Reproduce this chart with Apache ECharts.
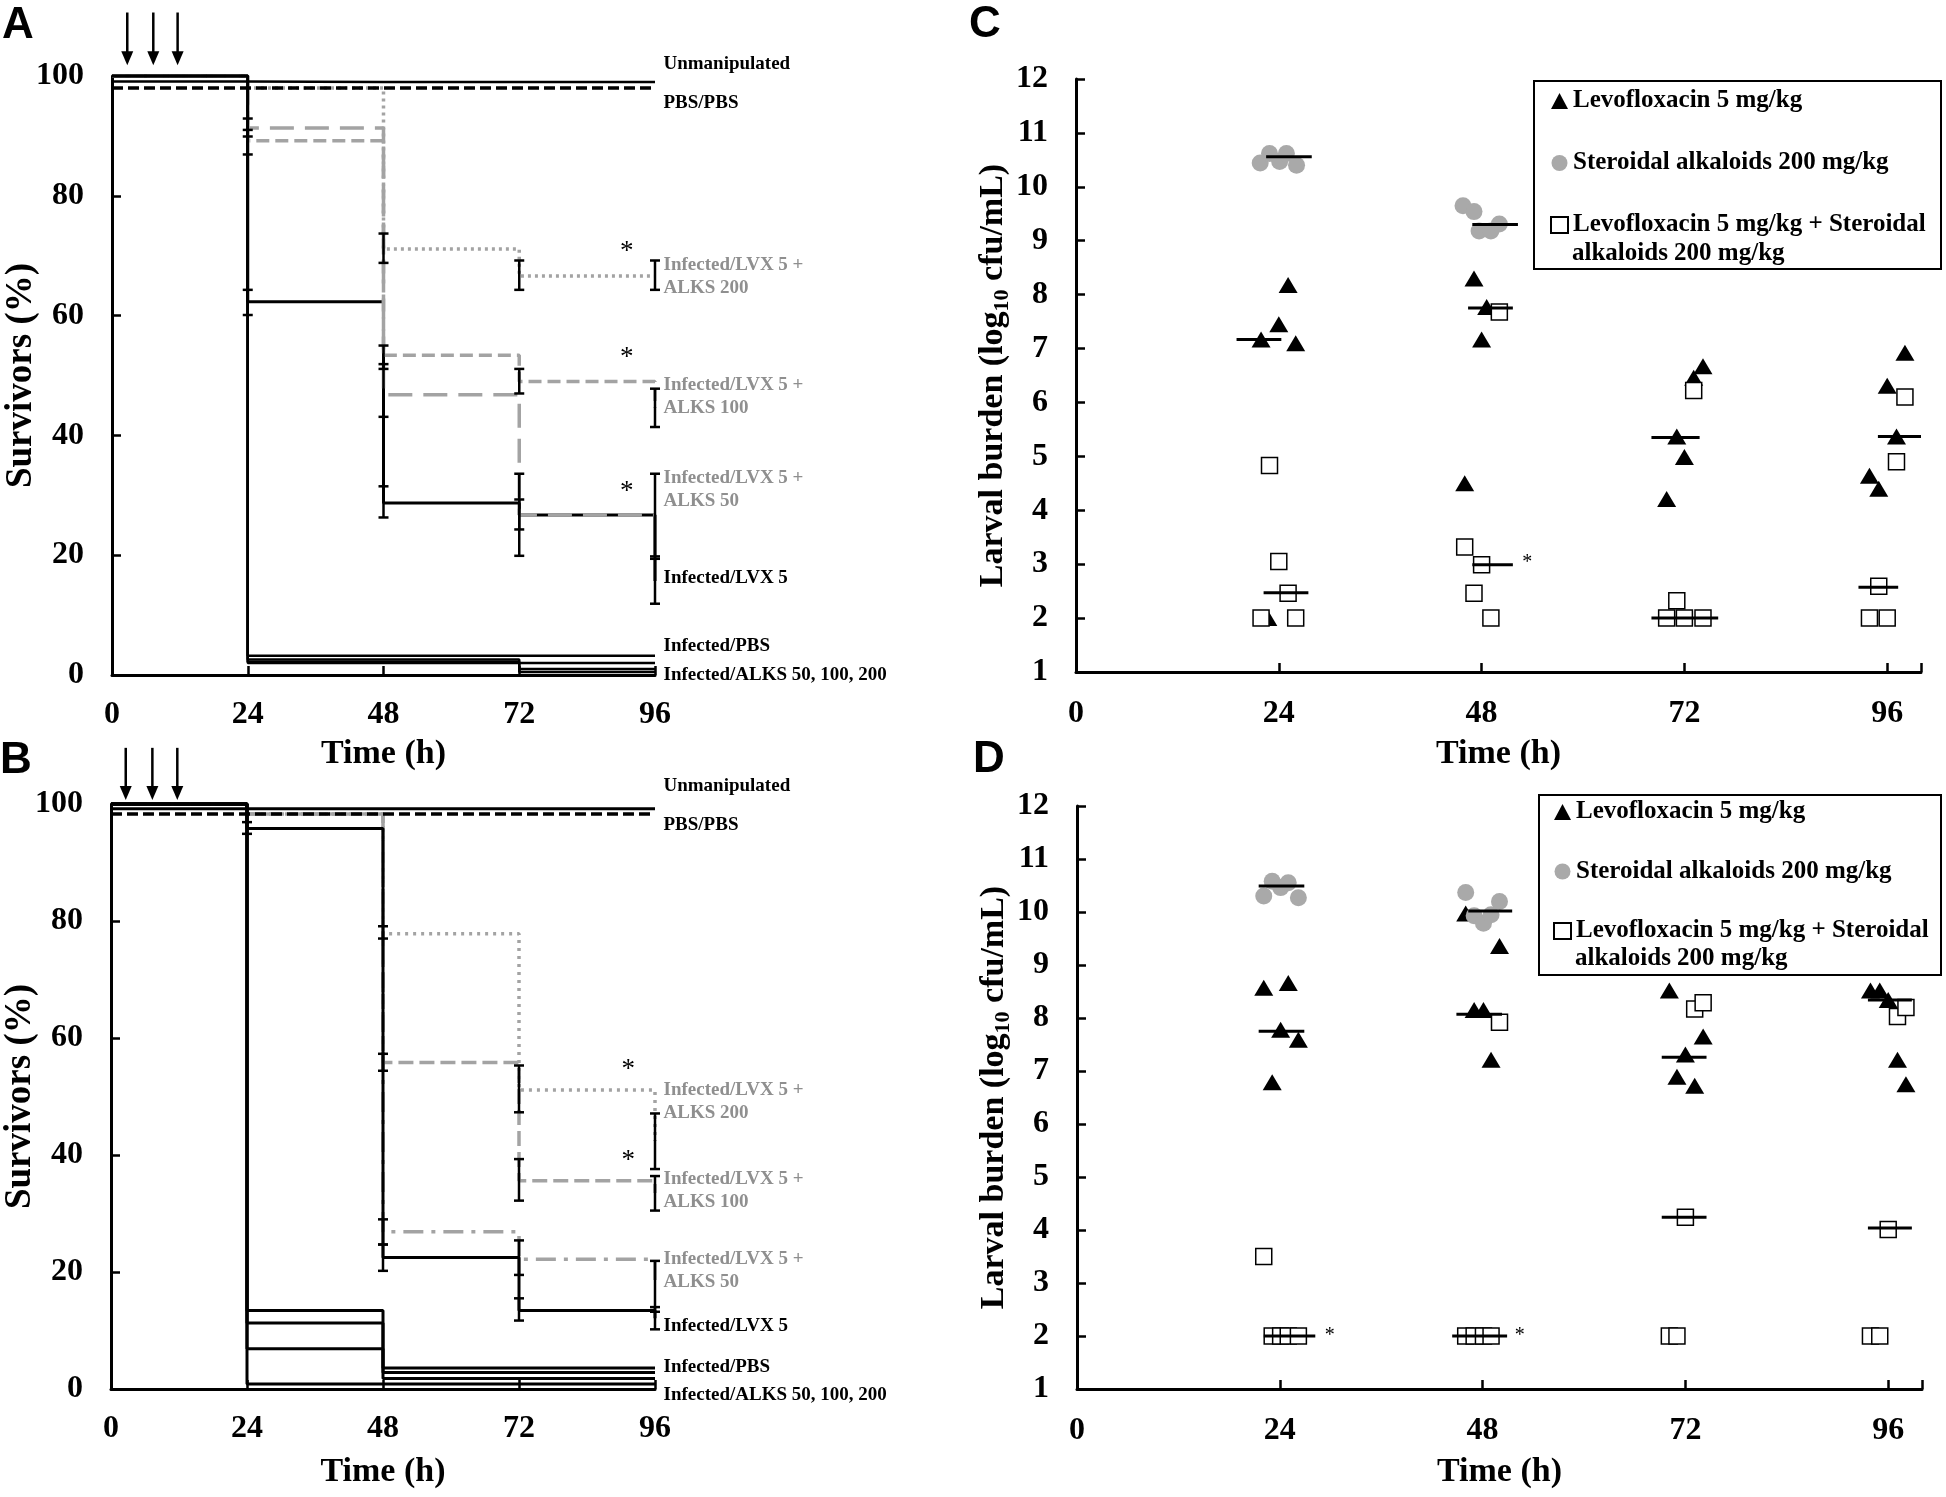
<!DOCTYPE html>
<html><head><meta charset="utf-8">
<script src="https://cdn.jsdelivr.net/npm/echarts@6/dist/echarts.min.js"></script>
<style>html,body{margin:0;padding:0;background:#fff}#c{width:1946px;height:1497px}</style>
</head><body><div id="c"></div>
<script>
// ---------- DATA ----------
const times = [0, 24, 48, 72, 96];

// Panel A survival (%)
const unmanipA   = [99.1, 99.0, 99.0, 99.0, 99.0];
const pbsA       = [98.0, 98.0, 98.0, 98.0, 98.0];
const infPbsA    = [100, 3.2, 3.2, 3.2, 3.2];
const alks50A    = [100, 2.6, 2.6, 2.0, 2.0];
const alks100A   = [100, 2.2, 2.2, 1.0, 1.0];
const alks200A   = [100, 2.0, 2.0, 0.5, 0.5];
const lvxA       = [100, 62.3, 28.7, 26.7, 15.7];
const lvx50A     = [100, 91.3, 46.8, 26.7, 26.7];
const lvx100A    = [100, 89.2, 53.4, 49.0, 44.6];
const lvx200A    = [100, 98.0, 71.1, 66.6, 66.6];
const errA = [[24,60.1,64.3],[24,86.9,91.0],[24,89.9,92.9],[48,68.8,73.7],[48,51.1,55.0],[48,43.1,51.9],[48,26.3,31.5],
  [72,64.3,69.2],[72,47.0,51.1],[72,19.9,33.6],[72,24.3,29.3],[96,64.3,69.2],[96,41.4,47.8],[96,19.8,33.6],[96,11.9,19.4]];

// Panel B survival (%)
const unmanipB   = [99.2, 99.2, 99.2, 99.2, 99.2];
const pbsB       = [98.3, 98.3, 98.3, 98.3, 98.3];
const infPbsB    = [100, 13.4, 3.6, 3.6, 3.6];
const alks50B    = [100, 11.3, 2.8, 2.8, 2.8];
const alks100B   = [100, 6.9, 1.8, 1.8, 1.8];
const alks200B   = [100, 0.85, 0.85, 0.85, 0.85];
const lvxB       = [100, 95.8, 22.5, 13.4, 12.1];
const lvx50B     = [100, 98.3, 26.9, 22.2, 17.5];
const lvx100B    = [100, 98.3, 55.8, 35.6, 33.5];
const lvx200B    = [100, 98.3, 77.8, 51.1, 42.4];
const errB = [[24,94.9,96.9],[48,77.0,79.1],[48,54.4,57.3],[48,24.7,29.0],[48,20.2,24.7],
  [72,47.3,55.3],[72,32.2,39.3],[72,19.5,25.4],[72,11.7,15.5],[96,37.6,47.1],[96,30.5,36.4],[96,13.2,21.9],[96,10.2,14.0]];

// Dosing arrows [time, top %, tip %]
const arrowsA = [[2.7,110.6,101.8],[7.3,110.6,101.8],[11.6,110.6,101.8]];
const arrowsB = [[2.6,109.6,100.7],[7.3,109.6,100.7],[11.7,109.6,100.7]];

// Right-hand labels [time, %, text, tone]
const labelsA = [[97.5,102.0,'Unmanipulated','k'],[97.5,95.5,'PBS/PBS','k'],[97.5,66.5,'Infected/LVX 5 +\nALKS 200','g'],
  [97.5,46.4,'Infected/LVX 5 +\nALKS 100','g'],[97.5,31.0,'Infected/LVX 5 +\nALKS 50','g'],[97.5,16.2,'Infected/LVX 5','k'],
  [97.5,4.8,'Infected/PBS','k'],[97.5,0.0,'Infected/ALKS 50, 100, 200','k']];
const labelsB = [[97.5,103.0,'Unmanipulated','k'],[97.5,96.4,'PBS/PBS','k'],[97.5,49.2,'Infected/LVX 5 +\nALKS 200','g'],
  [97.5,33.9,'Infected/LVX 5 +\nALKS 100','g'],[97.5,20.3,'Infected/LVX 5 +\nALKS 50','g'],[97.5,10.7,'Infected/LVX 5','k'],
  [97.5,3.8,'Infected/PBS','k'],[97.5,-1.0,'Infected/ALKS 50, 100, 200','k']];
const starsA = [[91,70.7],[91,53.0],[91,30.5]];
const starsB = [[91.3,54.6],[91.3,39.0]];

// Panel C larval burden (log10 cfu/mL) [time, value]
const lvxC = [[22.7,2.0],[21.9,7.17],[24.0,7.45],[25.1,8.18],[26.0,7.10],
  [46.0,4.5],[47.1,8.3],[48.0,7.17],[48.6,7.77],
  [69.9,4.21],[71.1,5.37],[72.0,4.99],[73.1,6.46],[74.2,6.67],
  [93.9,4.64],[95.0,4.40],[96.0,6.31],[97.1,5.37],[98.1,6.92]];
const alkC = [[21.8,10.44],[22.9,10.62],[24.1,10.47],[24.9,10.62],[26.1,10.40],
  [45.8,9.65],[47.1,9.54],[47.7,9.18],[49.1,9.18],[50.1,9.31]];
const comboC = [[21.9,2.0],[22.9,4.83],[24.0,3.05],[25.1,2.46],[26.0,2.0],
  [46.0,3.32],[47.1,2.46],[48.0,2.99],[49.1,2.0],[50.1,7.68],
  [69.9,2.0],[71.1,2.32],[72.0,2.0],[73.1,6.22],[74.2,2.0],
  [93.9,2.0],[95.0,2.59],[96.0,2.0],[97.1,4.90],[98.1,6.10]];
// medians [from, to, value]
const medC = [[22.5,27.9,10.56],[19.0,24.3,7.17],[22.2,27.5,2.47],
  [46.9,52.3,9.30],[46.4,51.7,7.75],[46.9,51.7,2.99],
  [68.1,73.8,5.35],[68.1,76.0,2.0],
  [94.9,100.0,5.37],[92.6,97.3,2.57]];
const starsC = [[53.4,3.02]];

// Panel D
const lvxD = [[22.1,8.57],[23.1,6.79],[24.1,7.78],[25.0,8.66],[26.2,7.59],
  [46.0,9.97],[47.0,8.15],[48.1,8.15],[49.0,7.21],[50.0,9.36],
  [70.1,8.52],[71.0,6.89],[72.0,7.31],[73.1,6.72],[74.1,7.65],
  [93.9,8.52],[95.0,8.52],[96.0,8.34],[97.1,7.21],[98.1,6.75]];
const alkD = [[22.1,10.30],[23.1,10.58],[24.1,10.46],[25.0,10.55],[26.2,10.27],
  [46.0,10.37],[47.0,9.93],[48.1,9.79],[49.0,9.95],[50.0,10.2]];
const comboD = [[22.1,3.5],[23.1,2.0],[24.1,2.0],[25.0,2.0],[26.2,2.0],
  [46.0,2.0],[47.0,2.0],[48.1,2.0],[49.0,2.0],[50.0,7.92],
  [70.1,2.0],[71.0,2.0],[72.0,4.24],[73.1,8.17],[74.1,8.29],
  [93.9,2.0],[95.0,2.0],[96.0,4.01],[97.1,8.03],[98.1,8.2]];
const medD = [[21.5,26.9,10.49],[21.5,26.9,7.75],[22.1,28.2,2.0],
  [46.3,51.5,10.02],[44.9,50.3,8.07],[44.4,50.9,2.0],
  [69.2,74.5,7.26],[69.2,74.5,4.24],
  [93.6,98.8,8.34],[93.6,98.8,4.04]];
const starsD = [[29.9,2.0],[52.4,2.0]];

const LEG1 = 'Levofloxacin 5 mg/kg';
const LEG2 = 'Steroidal alkaloids 200 mg/kg';
const LEG3 = 'Levofloxacin 5 mg/kg + Steroidal alkaloids 200 mg/kg';

// ---------- STYLE ----------
const SERIF = '"Liberation Serif","Times New Roman",serif';
const SANS = '"Liberation Sans",Arial,sans-serif';
const GRAYL = '#a3a3a3';
const GRAYT = '#8f8f8f';
const GRAYC = '#a9a9a9';

function stepSeries(vals, gi, color, width, type, z) {
  return {type:'line', xAxisIndex:gi, yAxisIndex:gi, data: times.map((t,i)=>[t, vals[i]]),
    step:'end', symbol:'none', clip:false, silent:true, z:z,
    lineStyle:{color:color, width:width, type:type, cap:'butt', opacity:1}};
}
function errSeries(data, gi) {
  return {type:'custom', xAxisIndex:gi, yAxisIndex:gi, data:data, silent:true, z:6, clip:false,
    encode:{x:0, y:[1,2]},
    renderItem:function(params, api){
      const x = api.value(0);
      const lo = api.coord([x, api.value(1)]), hi = api.coord([x, api.value(2)]);
      const w = 5, st = {stroke:'#000', lineWidth:2.5};
      return {type:'group', children:[
        {type:'line', shape:{x1:lo[0],y1:lo[1],x2:hi[0],y2:hi[1]}, style:st},
        {type:'line', shape:{x1:lo[0]-w,y1:lo[1],x2:lo[0]+w,y2:lo[1]}, style:st},
        {type:'line', shape:{x1:hi[0]-w,y1:hi[1],x2:hi[0]+w,y2:hi[1]}, style:st}]};
    }};
}
function arrowSeries(data, gi) {
  return {type:'custom', xAxisIndex:gi, yAxisIndex:gi, data:data, silent:true, z:6, clip:false,
    encode:{x:0, y:[1,2]},
    renderItem:function(params, api){
      const x = api.value(0);
      const top = api.coord([x, api.value(1)]), tip = api.coord([x, api.value(2)]);
      return {type:'group', children:[
        {type:'line', shape:{x1:top[0],y1:top[1],x2:tip[0],y2:tip[1]-10}, style:{stroke:'#000', lineWidth:2.5}},
        {type:'polygon', shape:{points:[[tip[0],tip[1]],[tip[0]-6,tip[1]-14],[tip[0]+6,tip[1]-14]]}, style:{fill:'#000'}}]};
    }};
}
function textSeries(list, gi, size, align, weight) {
  return {type:'custom', xAxisIndex:gi, yAxisIndex:gi, data:list.map(d=>[d[0], d[1]]), silent:true, z:7, clip:false,
    encode:{x:0, y:1},
    renderItem:function(params, api){
      const p = api.coord([api.value(0), api.value(1)]);
      const item = list[params.dataIndex];
      const txt = item.length > 2 ? item[2] : '*';
      const col = item.length > 3 && item[3] === 'g' ? GRAYT : '#000';
      return {type:'text', x:p[0], y:p[1], style:{text:txt, fill:col, fontFamily:SERIF, fontWeight:weight,
        fontSize:size, lineHeight:Math.round(size*1.2), align:align, verticalAlign:'middle',
        textAlign:align, textVerticalAlign:'middle'}};
    }};
}
function medSeries(data, gi) {
  return {type:'custom', xAxisIndex:gi, yAxisIndex:gi, data:data, silent:true, z:5, clip:false,
    encode:{x:[0,1], y:2},
    renderItem:function(params, api){
      const a = api.coord([api.value(0), api.value(2)]), b = api.coord([api.value(1), api.value(2)]);
      return {type:'line', shape:{x1:a[0],y1:a[1],x2:b[0],y2:b[1]}, style:{stroke:'#000', lineWidth:3}};
    }};
}
function scat(name, data, gi, kind) {
  const s = {type:'scatter', name:name, xAxisIndex:gi, yAxisIndex:gi, data:data, silent:true, clip:false};
  if (kind === 'tri') { s.symbol='triangle'; s.symbolSize=[19,16]; s.itemStyle={color:'#000', opacity:1}; s.z=2; }
  if (kind === 'cir') { s.symbol='circle'; s.symbolSize=17; s.itemStyle={color:GRAYC, opacity:1}; s.z=2; }
  if (kind === 'sq')  { s.symbol='rect'; s.symbolSize=16; s.itemStyle={color:'#fff', borderColor:'#000', borderWidth:1.5, opacity:1}; s.z=3; }
  return s;
}

const axLine = {show:true, onZero:false, lineStyle:{color:'#000', width:3}};
const axTick = {show:true, inside:true, length:9, lineStyle:{color:'#000', width:2.5}};
const nameStyle = {fontFamily:SERIF, fontWeight:'bold', fontSize:34, color:'#000'};
const survNameStyle = {fontFamily:SERIF, fontWeight:'bold', fontSize:37, color:'#000'};
function lab(margin, size, fmt) {
  const o = {margin:margin, fontFamily:SERIF, fontWeight:'bold', fontSize:size, color:'#000'};
  if (fmt) o.formatter = fmt;
  return o;
}
const fmt24 = v => (v % 24 === 0 ? String(v) : '');

const grids = [
  {left:112, top:76, width:543, height:599},
  {left:111, top:804, width:544, height:585},
  {left:1076, top:79, width:845, height:593},
  {left:1077, top:806, width:845, height:583}
].map(g => Object.assign({containLabel:false, outerBoundsMode:'none', show:false}, g));

const xAxes = [
  {gridIndex:0, type:'value', min:0, max:96, interval:24, name:'Time (h)', nameLocation:'middle', nameGap:62,
   nameTextStyle:nameStyle, axisLine:axLine, axisTick:axTick, axisLabel:lab(24,32), splitLine:{show:false}},
  {gridIndex:1, type:'value', min:0, max:96, interval:24, name:'Time (h)', nameLocation:'middle', nameGap:66,
   nameTextStyle:nameStyle, axisLine:axLine, axisTick:axTick, axisLabel:lab(24,32), splitLine:{show:false}},
  {gridIndex:2, type:'value', min:0, max:100, interval:24, name:'Time (h)', nameLocation:'middle', nameGap:65,
   nameTextStyle:nameStyle, axisLine:axLine, axisTick:axTick, axisLabel:lab(26,32,fmt24), splitLine:{show:false}},
  {gridIndex:3, type:'value', min:0, max:100, interval:24, name:'Time (h)', nameLocation:'middle', nameGap:66,
   nameTextStyle:nameStyle, axisLine:axLine, axisTick:axTick, axisLabel:lab(26,32,fmt24), splitLine:{show:false}}
].map(a => Object.assign({nameMoveOverlap:false}, a));

const burdenName = '{a|Larval burden (log}{b|10}{a| cfu/mL)}';
const burdenStyle = {fontFamily:SERIF, fontWeight:'bold', fontSize:34, color:'#000',
  rich:{a:{fontFamily:SERIF, fontWeight:'bold', fontSize:34, color:'#000', verticalAlign:'top'},
        b:{fontFamily:SERIF, fontWeight:'bold', fontSize:22, color:'#000', verticalAlign:'top', padding:[15,0,0,0]}}};

const yAxes = [
  {gridIndex:0, type:'value', min:0, max:100, interval:20, name:'Survivors (%)', nameLocation:'middle', nameGap:72,
   nameTextStyle:survNameStyle, axisLine:axLine, axisTick:axTick, axisLabel:lab(28,32), splitLine:{show:false}},
  {gridIndex:1, type:'value', min:0, max:100, interval:20, name:'Survivors (%)', nameLocation:'middle', nameGap:72,
   nameTextStyle:survNameStyle, axisLine:axLine, axisTick:axTick, axisLabel:lab(28,32), splitLine:{show:false}},
  {gridIndex:2, type:'value', min:1, max:12, interval:1, name:burdenName, nameLocation:'middle', nameGap:63,
   nameTextStyle:burdenStyle, axisLine:axLine, axisTick:axTick, axisLabel:lab(28,32), splitLine:{show:false}},
  {gridIndex:3, type:'value', min:1, max:12, interval:1, name:burdenName, nameLocation:'middle', nameGap:63,
   nameTextStyle:burdenStyle, axisLine:axLine, axisTick:axTick, axisLabel:lab(28,32), splitLine:{show:false}}
].map(a => Object.assign({nameMoveOverlap:false}, a));

const series = [
  // Panel A
  stepSeries(lvxA, 0, '#000', 3, 'solid', 3),
  stepSeries(lvx200A, 0, GRAYL, 3.5, [3,4], 2),
  stepSeries(lvx100A, 0, GRAYL, 3.5, [13,6], 4),
  stepSeries(lvx50A, 0, GRAYL, 3.5, [24,11], 4),
  stepSeries(unmanipA, 0, '#000', 2.5, 'solid', 5),
  stepSeries(pbsA, 0, '#000', 3.5, [11,5], 5),
  stepSeries(infPbsA, 0, '#000', 2.5, 'solid', 5),
  stepSeries(alks50A, 0, '#000', 2.5, 'solid', 5),
  stepSeries(alks100A, 0, '#000', 2.5, 'solid', 5),
  stepSeries(alks200A, 0, '#000', 2.5, 'solid', 5),
  errSeries(errA, 0), arrowSeries(arrowsA, 0),
  textSeries(labelsA, 0, 19, 'left', 'bold'), textSeries(starsA, 0, 27, 'center', 'normal'),
  // Panel B
  stepSeries(lvx200B, 1, GRAYL, 3.5, [3,5], 2),
  stepSeries(lvx100B, 1, GRAYL, 3.5, [15,6], 2),
  stepSeries(lvx50B, 1, GRAYL, 3.5, [20,8,4,8], 2),
  stepSeries(unmanipB, 1, '#000', 3, 'solid', 3),
  stepSeries(pbsB, 1, '#000', 3.5, [11,5], 3),
  stepSeries(infPbsB, 1, '#000', 3, 'solid', 3),
  stepSeries(alks50B, 1, '#000', 3, 'solid', 3),
  stepSeries(alks100B, 1, '#000', 3, 'solid', 3),
  stepSeries(alks200B, 1, '#000', 3, 'solid', 3),
  stepSeries(lvxB, 1, '#000', 3, 'solid', 3),
  errSeries(errB, 1), arrowSeries(arrowsB, 1),
  textSeries(labelsB, 1, 19, 'left', 'bold'), textSeries(starsB, 1, 27, 'center', 'normal'),
  // Panel C
  scat(LEG1, lvxC, 2, 'tri'), scat(LEG2, alkC, 2, 'cir'), scat(LEG3, comboC, 2, 'sq'),
  medSeries(medC, 2), textSeries(starsC, 2, 20, 'center', 'normal'),
  // Panel D
  scat(LEG1, lvxD, 3, 'tri'), scat(LEG2, alkD, 3, 'cir'), scat(LEG3, comboD, 3, 'sq'),
  medSeries(medD, 3), textSeries(starsD, 3, 20, 'center', 'normal')
];

const legText = {fontFamily:SERIF, fontWeight:'bold', fontSize:25, color:'#000', lineHeight:30};
const legFmt = n => (n === LEG3 ? 'Levofloxacin 5 mg/kg + Steroidal' : n);
const legends = [
  {left:1550, top:86, orient:'vertical', itemGap:32, itemWidth:17, itemHeight:16, padding:0, selectedMode:false,
   data:[LEG1, LEG2, LEG3], textStyle:legText, formatter:legFmt},
  {left:1553, top:797, orient:'vertical', itemGap:29.5, itemWidth:17, itemHeight:16, padding:0, selectedMode:false,
   data:[LEG1, LEG2, LEG3], textStyle:legText, formatter:legFmt}
];

const letter = (t, x, y) => ({type:'text', style:{text:t, x:x, y:y, fill:'#000', fontFamily:SANS, fontWeight:'bold',
  fontSize:44, align:'left', verticalAlign:'middle'}});
const graphics = [
  letter('A', 2, 26), letter('B', 0, 761), letter('C', 969, 25), letter('D', 973, 760),
  {type:'rect', shape:{x:1534, y:81, width:407, height:188}, style:{fill:'none', stroke:'#000', lineWidth:2}},
  {type:'rect', shape:{x:1539, y:795, width:402, height:180}, style:{fill:'none', stroke:'#000', lineWidth:2}},
  {type:'text', style:{text:'alkaloids 200 mg/kg', x:1572, y:254, fill:'#000', fontFamily:SERIF, fontWeight:'bold', fontSize:25, align:'left', verticalAlign:'middle'}},
  {type:'text', style:{text:'alkaloids 200 mg/kg', x:1575, y:959, fill:'#000', fontFamily:SERIF, fontWeight:'bold', fontSize:25, align:'left', verticalAlign:'middle'}}
];

const chart = echarts.init(document.getElementById('c'), null, {renderer:'canvas', width:1946, height:1497});
chart.setOption({
  backgroundColor:'#fff', animation:false,
  grid:grids, xAxis:xAxes, yAxis:yAxes, legend:legends, series:series, graphic:graphics
});
</script></body></html>
